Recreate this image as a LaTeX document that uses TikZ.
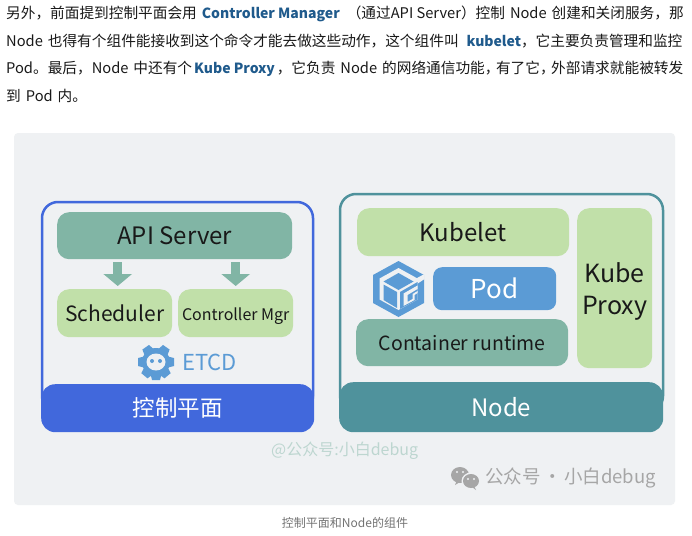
\documentclass[tikz,border=0pt]{standalone}
\usepackage{fontspec}
\setmainfont{Noto Sans CJK SC}
\usetikzlibrary{arrows.meta}
\definecolor{panelbg}{HTML}{EFF1F3}
\definecolor{apigreen}{HTML}{81B5A5}
\definecolor{lightgreen}{HTML}{C1E0A9}
\definecolor{planeblue}{HTML}{4168DC}
\definecolor{nodeteal}{HTML}{4F929C}
\definecolor{podblue}{HTML}{5B9BD5}
\definecolor{linkblue}{HTML}{1F5A8C}
\newcommand{\boxfont}[1]{\fontsize{#1}{#1}\selectfont}
\newcommand{\kw}[1]{\textcolor{linkblue}{\boxfont{14}\bfseries #1}}
\newcommand{\gap}{\hspace{5pt}}
\newcommand{\lowered}[2]{\raisebox{-#1}[\height][\depth]{#2}}
\tikzset{
    txtline/.style={anchor=west, inner sep=0pt, text=black!90, font=\boxfont{14.67}},
    block/.style={anchor=north west, rounded corners=12pt, inner sep=0pt, text=black!90},
    band/.style={block, rounded corners=14pt, text=white},
    frame/.style={draw, line width=2.5pt, outer sep=0pt, rounded corners=16pt},
    flow/.style={apigreen, line width=9pt, -{Triangle[width=28pt, length=12pt]}}
}
\begin{document}
\begin{tikzpicture}[x=1pt, y=-1pt]
    \useasboundingbox (0,0) rectangle (692,535);
    \fill[white] (0,0) rectangle (692,535);

    % text above the figure
    \node[txtline] (line1) at (6,14) {另外，前面提到控制平面会用\gap\kw{Controller Manager}\hspace{7pt}（通过API Server）控制\gap Node\gap 创建和关闭服务，那};
    \node[txtline] (line2) at (6,41) {Node\gap 也得有个组件能接收到这个命令才能去做这些动作，这个组件叫\hspace{8pt}\kw{kubelet}，它主要负责管理和监控};
    \node[txtline] (line3) at (6,69) {Pod。最后，Node\gap 中还有个\hspace{2pt}\kw{Kube Proxy}\hspace{2pt}，它负责\gap Node\gap 的网络通信功能，\hspace{-3.5pt}有了它，\hspace{-3.5pt}外部请求就能被转发};
    \node[txtline] (line4) at (6,96) {到\gap Pod\gap 内。};

    % panel
    \fill[panelbg, rounded corners=4pt] (14,133) rectangle (675,505);

    % control plane
    \node[frame, draw=planeblue, anchor=north west, minimum width=271pt, minimum height=210pt] (planeframe) at (42,202) {};
    \node[band, fill=planeblue, minimum width=273pt, minimum height=48pt] (plane) at (41,384) {\boxfont{22.5}控制平面};
    \node[block, fill=apigreen, minimum width=235pt, minimum height=47pt] (api) at (57,212) {\boxfont{24}API Server};
    \node[block, fill=lightgreen, minimum width=115pt, minimum height=48pt] (sched) at (57,289) {\boxfont{21}Scheduler};
    \node[block, fill=lightgreen, minimum width=115pt, minimum height=48pt] (ctrl) at (178,289) {\boxfont{16}\lowered{2.5pt}{Controller Mgr}};
    \draw[flow] ([xshift=3pt,yshift=-3pt]api.south -| sched.south) -- ([xshift=3pt,yshift=3pt]sched.north);
    \draw[flow] ([yshift=-3pt]api.south -| ctrl.south) -- ([yshift=3pt]ctrl.north);

    % etcd gear
    \begin{scope}[shift={(156,362)}]
        \foreach \a in {35,90,140,180,220,270,325} {
            \fill[podblue, rotate=\a] (-4,-18) -- (4,-18) -- (6,-10) -- (-6,-10) -- cycle;
        }
        \fill[podblue] (0,0) circle (14pt);
        \fill[panelbg] (0,0) ellipse (9.5pt and 8.5pt);
        \fill[podblue] (-4,-1) circle (2pt);
        \fill[podblue] (4,-1) circle (2pt);
    \end{scope}
    \node[inner sep=0pt, anchor=west, text=podblue] (etcd) at (182,362) {\boxfont{22}ETCD};

    % worker node
    \node[frame, draw=nodeteal, anchor=north west, minimum width=323pt, minimum height=218pt] (nodeframe) at (340,194) {};
    \node[band, fill=nodeteal, minimum width=324pt, minimum height=50pt] (node) at (339,382) {\boxfont{24}Node};
    \node[block, fill=lightgreen, minimum width=212pt, minimum height=48pt] (kubelet) at (357,208) {\boxfont{24}Kubelet};
    \node[block, fill=podblue, rounded corners=9pt, minimum width=123pt, minimum height=43pt, text=white] (pod) at (433,267) {\boxfont{26}Pod};
    \node[block, fill=apigreen, minimum width=212pt, minimum height=47pt] (runtime) at (356,319) {\boxfont{19.5}Container runtime};
    \node[block, fill=lightgreen, minimum width=75pt, minimum height=160pt, align=center, font=\fontsize{25}{32}\selectfont] (proxy) at (577,208) {\lowered{3pt}{Kube}\\\lowered{3pt}{Proxy}};

    % cube logo
    \begin{scope}[shift={(398.5,289)}]
        \fill[podblue] (0,-28) -- (25.5,-14) -- (25.5,14) -- (0,28) -- (-25.5,14) -- (-25.5,-14) -- cycle;
        \fill[panelbg] (0,-21) -- (19,-10.5) -- (19,10.5) -- (0,21) -- (-19,10.5) -- (-19,-10.5) -- cycle;
        \fill[panelbg] (13,-8) -- (26,-15) -- (26,-10) -- (17,-4) -- cycle;
        \fill[podblue] (0,-16) -- (15,-7.5) -- (0,1) -- (-15,-7.5) -- cycle;
        \fill[podblue] (-15,-4.5) -- (-1.5,3) -- (-1.5,19) -- (-15,11) -- cycle;
        \fill[podblue] (1.5,3) -- (19,-7) -- (19,10.5) -- (1.5,20) -- cycle;
        \fill[panelbg] (5,4.5) -- (19,-3.5) -- (19,0) -- (9,6) -- (9,13) -- (14,10) -- (14,5) -- (19,2) -- (19,4) -- (16,6) -- (16,11) -- (5,17) -- cycle;
    \end{scope}

    % marks at the bottom
    \node[inner sep=0pt, anchor=west, text=apigreen!45!panelbg] (mark) at (271,451) {\boxfont{16}@公众号:小白debug};
    \fill[black!35] (460,475) ellipse (9pt and 8pt);
    \fill[black!35] (455,485) -- (457,480) -- (460,482) -- cycle;
    \fill[panelbg] (471,481) ellipse (9.5pt and 8.5pt);
    \fill[black!35] (471,481) ellipse (8pt and 7pt);
    \fill[black!35] (476,490) -- (474,486) -- (472,487) -- cycle;
    \foreach \ex/\ey in {457/472, 463/472, 468/479, 474/479} {
        \fill[panelbg] (\ex,\ey) circle (1.2pt);
    }
    \node[inner sep=0pt, anchor=west, text=black!35] (brand) at (485,478) {\boxfont{18.5}公众号\hspace{2.5pt}·\hspace{2.5pt}小白debug};
    \node[inner sep=0pt, text=black!55] (caption) at (345,522.5) {\boxfont{12}控制平面和Node的组件};
\end{tikzpicture}
\end{document}
